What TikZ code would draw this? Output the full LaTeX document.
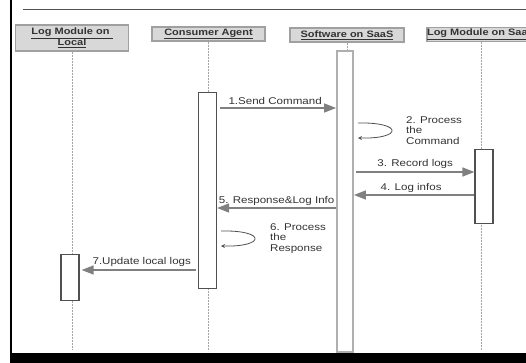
\documentclass[tikz,border=0pt]{standalone}
\usepackage{fontspec}
\usepackage{xcolor}
\usetikzlibrary{arrows.meta, positioning}
\newfontfamily\seqfont[FakeStretch=1.18]{Liberation Sans}
\definecolor{headfill}{RGB}{216,216,216}
\definecolor{headline}{RGB}{160,160,160}
\definecolor{txtgray}{RGB}{50,50,50}
\definecolor{msggray}{RGB}{128,128,128}
\definecolor{lifegray}{RGB}{165,165,165}
\definecolor{actgray}{RGB}{80,80,80}
\definecolor{actlight}{RGB}{175,175,175}

\begin{document}
\begin{tikzpicture}[x=1pt, y=-1pt,
    head/.style={draw=headline, fill=headfill, line width=1.5pt, inner sep=0pt,
        minimum height=14pt, align=center, text=txtgray,
        font=\seqfont\bfseries\fontsize{9.3}{11}\selectfont},
    life/.style={draw=lifegray, line width=1pt, dash pattern=on 2pt off 1pt},
    act/.style={draw=actgray, fill=white, line width=1.2pt, minimum width=18pt, inner sep=0pt, anchor=north},
    msg/.style={draw=msggray, line width=1.4pt, -{Triangle[length=12pt,width=9pt,color=msggray]}},
    selfmsg/.style={draw=actgray, line width=0.8pt, -{Stealth[length=4pt,width=4pt]}},
    lbl/.style={inner sep=1pt, align=left, text=txtgray,
        font=\seqfont\fontsize{9.8}{10.6}\selectfont}]
    \useasboundingbox (0,0) rectangle (526,363);
    % Frame
    \draw[black, line width=1.5pt] (11,0) -- (11,353);
    \fill[black] (10,353) rectangle (526,363);
    \draw[actgray, line width=0.8pt] (23,9) -- (526,9);
    % Objects
    \node[head, minimum width=113pt, minimum height=26pt] (hLocal) at (72,38) {\underline{Log Module on }\\\underline{Local}};
    \node[head, minimum width=113pt] (hAgent) at (208.5,34) {\underline{Consumer Agent}};
    \node[head, minimum width=114pt] (hSoft) at (347,35) {\underline{Software on SaaS}};
    \node[head, minimum width=108pt] (hSaaSLog) at (481,34.5) {\underline{Log Module on SaaS}};
    % Lifelines
    \coordinate (bottom) at (0,350);
    \foreach \obj in {hLocal, hAgent, hSoft, hSaaSLog}
        \draw[life] (\obj.south) -- (\obj.south |- bottom);
    % Activations
    \node[act, minimum height=196pt] (actAgent) at (207.5,92) {};
    \node[act, draw=actlight, line width=1.8pt, minimum width=16pt, minimum height=301pt] (actSoft) at (345,50) {};
    \node[act, minimum height=74pt] (actSaaSLog) at (484,149) {};
    \node[act, minimum height=46pt] (actLocal) at (70,254) {};
    % Messages
    \draw[msg] ([xshift=3pt]actAgent.east |- 0,108) -- (actSoft.west |- 0,108)
        node[midway, above, lbl, xshift=-3pt, yshift=1.5pt] {1.Send Command};
    \coordinate (p2a) at (358,123);
    \coordinate (p2b) at (358,138);
    \draw[selfmsg] (p2a) .. controls +(45,-1) and +(45,1) .. (p2b);
    \node[lbl, anchor=north west] (l2) at (405,115) {2. Process\\the\\Command};
    \draw[msg] ([xshift=2pt]actSoft.east |- 0,172) -- (actSaaSLog.west |- 0,172)
        node[midway, above, lbl, yshift=1.5pt] {3. Record logs};
    \draw[msg] (actSaaSLog.west |- 0,195) -- (actSoft.east |- 0,195)
        node[midway, above, lbl, xshift=-3pt, yshift=1pt] {4. Log infos};
    \draw[msg] (actSoft.west |- 0,208) -- (actAgent.east |- 0,208)
        node[midway, above, lbl, yshift=1pt] {5. Response\&Log Info};
    \coordinate (p6a) at (221,231);
    \coordinate (p6b) at (221,246);
    \draw[selfmsg] (p6a) .. controls +(45,-1) and +(45,1) .. (p6b);
    \node[lbl, anchor=north west] (l6) at (269,222) {6. Process\\the\\Response};
    \draw[msg] ([xshift=-2pt]actAgent.west |- 0,270) -- ([xshift=2pt]actLocal.east |- 0,270)
        node[midway, above, lbl, xshift=3pt, yshift=1.5pt] {7.Update local logs};
\end{tikzpicture}
\end{document}
